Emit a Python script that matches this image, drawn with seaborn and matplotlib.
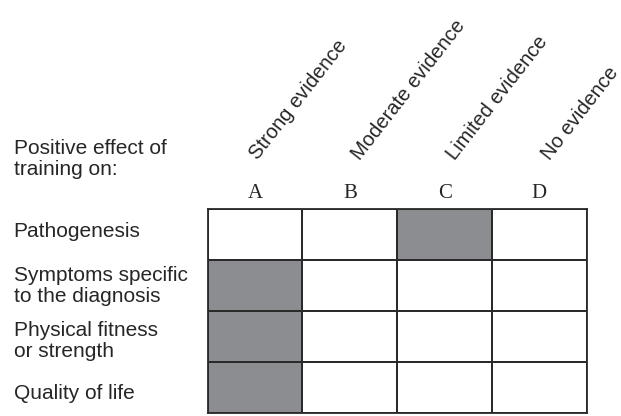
import matplotlib
matplotlib.use('Agg')
import matplotlib.pyplot as plt
import seaborn as sns
import pandas as pd
from matplotlib.colors import ListedColormap

# Evidence levels (columns) and outcomes (rows)
letters = ['A', 'B', 'C', 'D']
evidence = ['Strong evidence', 'Moderate evidence', 'Limited evidence', 'No evidence']
outcomes = ['Pathogenesis', 'Symptoms specific\nto the diagnosis',
            'Physical fitness\nor strength', 'Quality of life']
# 1 = shaded cell (evidence level reached for that outcome)
pathogenesis = [0, 0, 1, 0]
symptoms = [1, 0, 0, 0]
fitness = [1, 0, 0, 0]
quality = [1, 0, 0, 0]

grid = pd.DataFrame([pathogenesis, symptoms, fitness, quality],
                    index=outcomes, columns=letters)

sns.set_style('white')
plt.rcParams['font.family'] = ['Liberation Sans', 'DejaVu Sans']
FS = 15

W, H = 621, 416
fig = plt.figure(figsize=(W / 100, H / 100), dpi=100)
ax_left, ax_bottom, ax_w, ax_h = 0.3345, 0.0065, 0.6103, 0.491
ax = fig.add_axes([ax_left, ax_bottom, ax_w, ax_h])

sns.heatmap(grid, ax=ax, cmap=ListedColormap(['white', '#8c8d90']),
            vmin=0, vmax=1, cbar=False, linewidths=1.2, linecolor='#2a2a2a')

for sp in ax.spines.values():
    sp.set_visible(True)
    sp.set_linewidth(1.3)
    sp.set_color('#2a2a2a')

# column letters on top
ax.xaxis.tick_top()
ax.set_xticklabels(letters, family='Liberation Serif', fontsize=FS, rotation=0)
ax.tick_params(axis='x', length=0, pad=4.5)
ax.set_yticks([])
ax.set_xlabel('')
ax.set_ylabel('')

# rotated evidence labels
x_shift = [0.53, 0.61, 0.61, 0.61]
for i, lab in enumerate(evidence):
    ax.text(i + x_shift[i], -0.95, lab, rotation=52, rotation_mode='anchor',
            ha='left', va='baseline', fontsize=14.5, clip_on=False)

# row labels, left aligned in the margin (small pixel nudges as in the original)
nudge = [-3, 0, 4, 6]
for j, lab in enumerate(outcomes):
    yc = ax_bottom + ax_h * (1 - (j + 0.5) / len(outcomes)) - nudge[j] / H
    fig.text(0.022, yc, lab, fontsize=FS, va='center', ha='left',
             linespacing=1.12)

fig.text(0.022, 1 - 159 / H, 'Positive effect of\ntraining on:', fontsize=FS,
         va='center', ha='left', linespacing=1.12)

fig.savefig('out.png', dpi=100)
